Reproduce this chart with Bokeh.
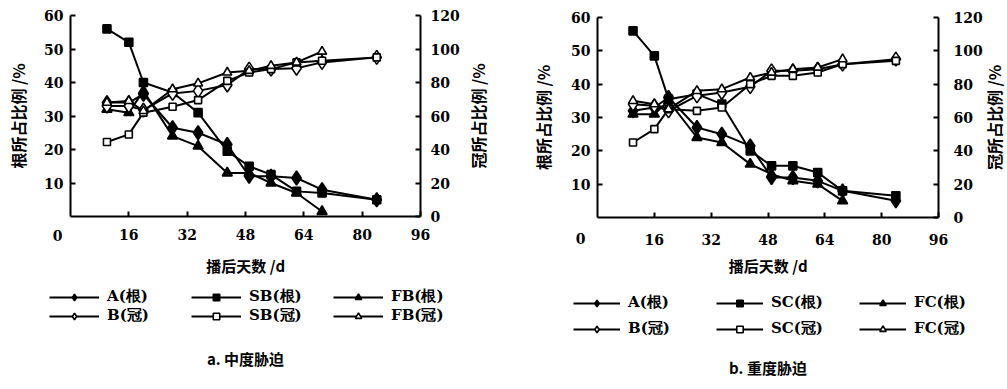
import math
from bokeh.plotting import figure
from bokeh.models import Range1d, LinearAxis, FixedTicker, Label, Legend, LegendItem
from bokeh.layouts import row
from bokeh.embed import file_html
from bokeh.resources import INLINE

# ---------------- data ----------------
days = [10, 16, 20, 28, 35, 43, 49, 55, 62, 69, 84]
days_f = [10, 16, 20, 28, 35, 43, 49, 55, 62, 69]

# panel a (moderate stress); root on left axis, crown on right axis (%)
a_A_root = [34, 34, 36.5, 26.5, 25, 21.5, 12, 12, 11.5, 8, 5]
a_B_crown = [66, 66, 63.5, 73.5, 75, 78.5, 88, 88, 88.5, 92, 95]
a_SB_root = [56, 52, 40, 37, 31, 19.5, 15, 12.5, 7.5, 7, 5]
a_SB_crown = [44.5, 49, 62, 65.5, 69.5, 81, 86, 88, 92, 93, 95]
a_FB_root = [32, 31, 37.5, 24, 21, 13, 13, 10, 7, 1.5]
a_FB_crown = [68, 69, 63, 76, 79.5, 86, 87, 90, 92, 98.5]

# panel b (severe stress)
b_A_root = [32, 33, 36, 27, 25, 21.5, 12, 12, 11, 8, 5]
b_B_crown = [68, 67, 64, 73, 75, 78.5, 88, 88, 89, 92, 95]
b_SC_root = [56, 48.5, 35.5, 37, 34, 20, 15.5, 15.5, 13.5, 8, 6.5]
b_SC_crown = [45, 53, 65, 64, 66, 80, 85, 85, 87, 92, 94]
b_FC_root = [31, 31, 35, 24, 22.5, 16, 13, 11, 10, 5]
b_FC_crown = [70, 68, 65, 76, 77, 84, 87, 89, 90, 95]

x_ticks = [16, 32, 48, 64, 80, 96]
left_ticks = [10, 20, 30, 40, 50, 60]
right_ticks = [0, 20, 40, 60, 80, 100, 120]

NUM_FONT = "DejaVu Serif"
CJK_FONT = "Noto Sans CJK SC"
H = 387


def make_panel(cfg):
    W = cfg["W"]
    fl, fw, ft, fh = cfg["fl"], cfg["fw"], cfg["ft"], cfg["fh"]
    ux = 96.0 / fw
    uy = 60.0 / fh
    x0 = -fl * ux
    x1 = (W - fl) * ux
    y1 = 60 + ft * uy
    y0 = -(H - ft - fh) * uy

    p = figure(width=W, height=H,
               x_range=Range1d(x0, x1), y_range=Range1d(y0, y1),
               output_backend="svg", toolbar_location=None,
               min_border=0, min_border_left=0, min_border_right=0,
               min_border_top=0, min_border_bottom=0)
    p.extra_y_ranges = {"crown": Range1d(2 * y0, 2 * y1)}
    p.outline_line_color = None
    p.grid.visible = False
    p.background_fill_color = "white"
    p.border_fill_color = "white"

    def style(ax, standoff):
        ax.axis_line_width = 2
        ax.axis_line_color = "black"
        ax.major_tick_in = 5
        ax.major_tick_out = 0
        ax.major_tick_line_width = 2
        ax.minor_tick_line_color = None
        ax.major_label_text_font = NUM_FONT
        ax.major_label_text_font_style = "bold"
        ax.major_label_text_font_size = "14px"
        ax.major_label_text_color = "black"
        ax.major_label_standoff = standoff

    xa = p.xaxis[0]
    xa.ticker = FixedTicker(ticks=x_ticks)
    xa.fixed_location = 0
    xa.bounds = (0, 96)
    style(xa, cfg["xs"])
    ya = p.yaxis[0]
    ya.ticker = FixedTicker(ticks=left_ticks)
    ya.fixed_location = 0
    ya.bounds = (0, 60)
    style(ya, 7)
    ra = LinearAxis(y_range_name="crown", ticker=FixedTicker(ticks=right_ticks))
    style(ra, cfg["rs"])
    p.add_layout(ra, "right")
    ra.fixed_location = 96
    ra.bounds = (0, 120)

    items_row1 = []
    items_row2 = []
    series = cfg["series"]
    rends = {}
    for s in series:
        yr = "crown" if s["crown"] else "default"
        rends[s["name"]] = [p.line(s["x"], s["y"], line_color="black", line_width=2,
                                   y_range_name=yr)]
    for s in sorted(series, key=lambda q: q["crown"]):
        yr = "crown" if s["crown"] else "default"
        r = p.scatter(s["x"], s["y"], marker=s["marker"], size=s["size"],
                      fill_color="white" if s["crown"] else "black",
                      line_color="black", line_width=1.6, y_range_name=yr)
        rends[s["name"]].append(r)
    for s in series:
        item = LegendItem(label=s["name"], renderers=rends[s["name"]])
        (items_row2 if s["crown"] else items_row1).append(item)

    for items, vy in ((items_row1, cfg["ly1"]), (items_row2, cfg["ly2"])):
        leg = Legend(items=items, orientation="horizontal",
                     location=(cfg["lx"], vy),
                     glyph_width=cfg["gw"], glyph_height=16, label_standoff=8,
                     spacing=cfg["sp"], padding=0, margin=0,
                     label_width=cfg["lw"], label_height=16,
                     border_line_color=None, background_fill_alpha=0,
                     label_text_font=NUM_FONT, label_text_font_style="bold",
                     label_text_font_size="15px", label_text_color="black")
        p.add_layout(leg)

    def lab(x, y, dx, dy, text, font, size, angle=0.0):
        p.add_layout(Label(x=x, y=y, x_offset=dx, y_offset=dy, text=text,
                           angle=angle, text_align="center", text_baseline="middle",
                           text_font=font, text_font_style="bold",
                           text_font_size=size, text_color="black"))

    lab(0, 30, cfg["ylt"], 0, "根所占比例 /%", CJK_FONT, "16px", math.pi / 2)
    lab(96, 30, cfg["yrt"], 0, "冠所占比例 /%", CJK_FONT, "16px", math.pi / 2)
    lab(48, 0, 0, cfg["xt"], "播后天数 /d", CJK_FONT, "15px")
    lab(0, 0, cfg["zx"], cfg["zy"], "0", NUM_FONT, "14px")
    lab(48, 0, 0, cfg["cy"], cfg["caption"], CJK_FONT, "15px")
    return p


cfg_a = dict(W=501, fl=70, fw=350, ft=15, fh=201, xs=12, rs=10,
             lx=49, ly1=81, ly2=62, gw=50, sp=26, lw=58,
             ylt=-53, yrt=57, xt=-49, zx=-13, zy=-19, cy=-142,
             caption="a. 中度胁迫",
             series=[
                 dict(name="A(根)", x=days, y=a_A_root, crown=False, marker="diamond", size=14),
                 dict(name="SB(根)", x=days, y=a_SB_root, crown=False, marker="square", size=8),
                 dict(name="FB(根)", x=days_f, y=a_FB_root, crown=False, marker="triangle", size=10),
                 dict(name="B(冠)", x=days, y=a_B_crown, crown=True, marker="diamond", size=14),
                 dict(name="SB(冠)", x=days, y=a_SB_crown, crown=True, marker="square", size=7),
                 dict(name="FB(冠)", x=days_f, y=a_FB_crown, crown=True, marker="triangle", size=9),
             ])

cfg_b = dict(W=504, fl=96, fw=341, ft=17, fh=200, xs=16, rs=15,
             lx=72, ly1=75, ly2=49, gw=47, sp=30, lw=58,
             ylt=-55, yrt=55, xt=-48, zx=-17, zy=-21, cy=-150,
             caption="b. 重度胁迫",
             series=[
                 dict(name="A(根)", x=days, y=b_A_root, crown=False, marker="diamond", size=14),
                 dict(name="SC(根)", x=days, y=b_SC_root, crown=False, marker="square", size=8),
                 dict(name="FC(根)", x=days_f, y=b_FC_root, crown=False, marker="triangle", size=10),
                 dict(name="B(冠)", x=days, y=b_B_crown, crown=True, marker="diamond", size=14),
                 dict(name="SC(冠)", x=days, y=b_SC_crown, crown=True, marker="square", size=7),
                 dict(name="FC(冠)", x=days_f, y=b_FC_crown, crown=True, marker="triangle", size=9),
             ])

p1 = make_panel(cfg_a)
p2 = make_panel(cfg_b)
layout = row(p1, p2, spacing=0)

open("out.html", "w").write(file_html(layout, INLINE))
